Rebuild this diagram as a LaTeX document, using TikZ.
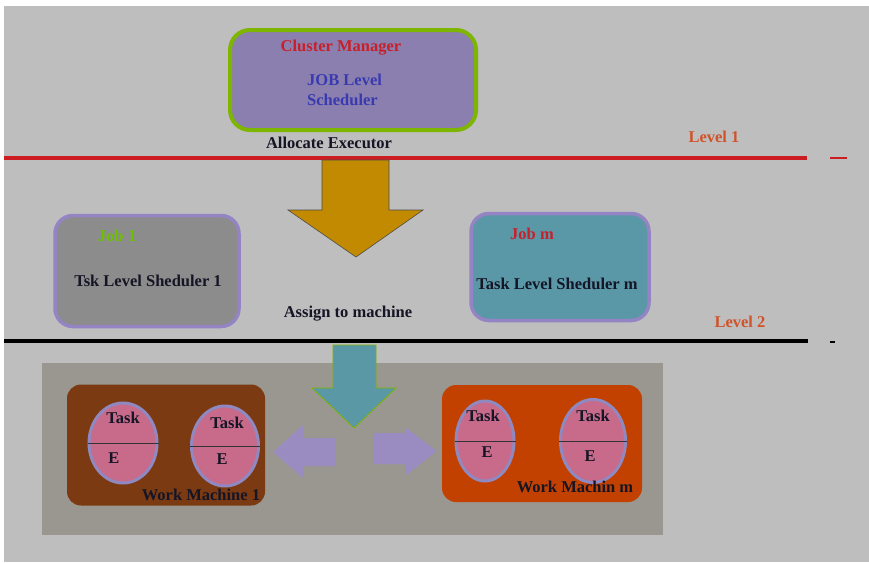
\documentclass[tikz,border=0pt]{standalone}
\usepackage{fontspec}
\setmainfont{Liberation Serif}
\usetikzlibrary{shapes.geometric}
\definecolor{bg}{HTML}{BEBEBE}
\definecolor{cmfill}{HTML}{8A7FAE}
\definecolor{cmborder}{HTML}{7DB500}
\definecolor{redtxt}{HTML}{C8202A}
\definecolor{bluetxt}{HTML}{3A3AB0}
\definecolor{lvl}{HTML}{D0532A}
\definecolor{redline}{HTML}{CC1E22}
\definecolor{gold}{HTML}{C28A00}
\definecolor{jobgray}{HTML}{8C8C8C}
\definecolor{jobborder}{HTML}{9484C4}
\definecolor{jobteal}{HTML}{5A98A8}
\definecolor{greentxt}{HTML}{6CC000}
\definecolor{panel}{HTML}{9A9690}
\definecolor{brown}{HTML}{7B3A12}
\definecolor{orangebox}{HTML}{C24100}
\definecolor{pink}{HTML}{C86A8A}
\definecolor{ellborder}{HTML}{9088C0}
\definecolor{lilac}{HTML}{9A8CC0}
\definecolor{tealarrow}{HTML}{5A98A6}
\definecolor{txt}{HTML}{151525}
\tikzset{
  lbl/.style={font=\fontsize{16.5}{20}\selectfont\bfseries, inner sep=0pt, text=txt},
  cell/.style={ellipse, draw=ellborder, line width=3pt, fill=pink, inner sep=0pt},
  chord/.style={draw=black!80, line width=1pt},
}
\begin{document}
\begin{tikzpicture}[x=1pt,y=-1pt]
\useasboundingbox (0,0) rectangle (869,562);
\fill[white] (0,0) rectangle (869,562);
\fill[bg] (4,6) rectangle (869,562);

% Cluster manager
\node[draw=cmborder, line width=4pt, fill=cmfill, rounded corners=20pt,
  minimum width=246pt, minimum height=100pt, inner sep=0pt] (cm) at (353,80) {};
\node[lbl, text=redtxt] (cmt) at (341,48) {Cluster Manager};
\node[lbl, text=bluetxt, align=left, anchor=west] (jls) at (307,90) {JOB Level\\Scheduler};
\node[lbl] (alloc) at (329,143) {Allocate Executor};

% Level 1 line
\draw[redline, line width=4pt] (4,158) -- (807,158);
\draw[redline, line width=2pt] (830,158) -- (847,158);
\node[lbl, text=lvl] (l1) at (714,137) {Level 1};

% Gold arrow
\filldraw[fill=gold, draw=black!70, line width=0.6pt]
  (322,160) -- (389,160) -- (389,210) -- (423,210) -- (356,257) -- (288,210) -- (322,210) -- cycle;

% Job boxes
\node[draw=jobborder, line width=3.5pt, fill=jobgray, rounded corners=18pt,
  minimum width=184pt, minimum height=111pt, inner sep=0pt] (job1) at (147,271) {};
\node[lbl, text=greentxt] (j1t) at (117,236) {Job 1};
\node[lbl] (j1s) at (148,281) {Tsk Level Sheduler 1};

\node[draw=jobborder, line width=3.5pt, fill=jobteal, rounded corners=18pt,
  minimum width=178pt, minimum height=107pt, inner sep=0pt] (jobm) at (560,267) {};
\node[lbl, text=redtxt] (jmt) at (532,234) {Job m};
\node[lbl] (jms) at (557,284) {Task Level Sheduler m};

\node[lbl] (assign) at (348,314) {Assign to machine};

% Level 2 line
\draw[black, line width=4pt] (4,341) -- (808,341);
\draw[black, line width=1.5pt] (830,342) -- (835,342);
\node[lbl, text=lvl] (l2) at (740,322) {Level 2};

% Panel
\fill[panel] (42,363) rectangle (663,535);

% Teal arrow
\filldraw[fill=tealarrow, draw=cmborder, line width=0.8pt]
  (333,345) -- (376,345) -- (376,388) -- (396,388) -- (354,428) -- (312,388) -- (333,388) -- cycle;

% Work machine 1
\node[fill=brown, rounded corners=14pt, minimum width=198pt, minimum height=121pt, inner sep=0pt] (wm1) at (166,445) {};
\node[cell, minimum width=68pt, minimum height=80pt] (e1) at (123,443) {};
\draw[chord] (e1.west) -- (e1.east);
\node[lbl] (t1) at (123,418) {Task};
\node[lbl] (x1) at (114,458) {E};
\node[cell, minimum width=67pt, minimum height=80pt] (e2) at (225,446) {};
\draw[chord] (e2.west) -- (e2.east);
\node[lbl] (t2) at (227,423) {Task};
\node[lbl] (x2) at (222,459) {E};
\node[lbl] (wm1t) at (201,495) {Work Machine 1};

% Purple arrows
\fill[lilac] (273,452) -- (303,425) -- (303,438) -- (335,438) -- (335,466) -- (303,466) -- (303,478) -- cycle;
\fill[lilac] (437,451) -- (405,427) -- (405,433) -- (373,433) -- (373,464) -- (405,464) -- (405,476) -- cycle;

% Work machine m
\node[fill=orangebox, rounded corners=14pt, minimum width=200pt, minimum height=117pt, inner sep=0pt] (wmm) at (542,443.5) {};
\node[cell, minimum width=58pt, minimum height=80pt] (e3) at (485,441) {};
\draw[chord] (e3.west) -- (e3.east);
\node[lbl] (t3) at (483,416) {Task};
\node[lbl] (x3) at (487,452) {E};
\node[cell, minimum width=65pt, minimum height=83pt] (e4) at (593,441) {};
\draw[chord] (e4.west) -- (e4.east);
\node[lbl] (t4) at (593,416) {Task};
\node[lbl] (x4) at (590,456) {E};
\node[lbl] (wmmt) at (575,487) {Work Machin m};
\end{tikzpicture}
\end{document}
